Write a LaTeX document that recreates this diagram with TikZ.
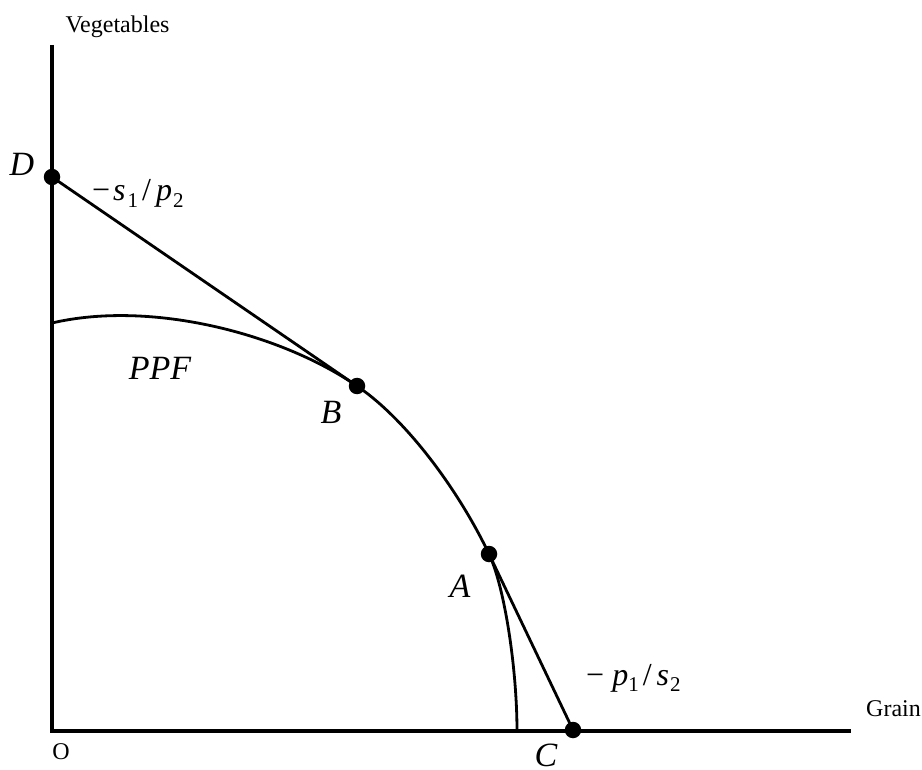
\documentclass[tikz,border=0pt]{standalone}
\usepackage{fontspec}
\setmainfont{Liberation Serif}
\newcommand{\lowsub}[1]{\raisebox{-0.45ex}{\fontsize{21}{21}\selectfont #1}}
\begin{document}
\begin{tikzpicture}[x=1pt,y=-1pt,
  axis/.style={line width=3.2pt},
  curveline/.style={line width=2.8pt},
  dot/.style={circle,fill=black,inner sep=0pt,minimum size=16.5pt},
  axlabel/.style={font=\fontsize{24}{28}\selectfont,anchor=base,inner sep=0pt},
  ptlabel/.style={font=\fontsize{34}{38}\selectfont\itshape,anchor=base,inner sep=0pt},
  slopelabel/.style={font=\fontsize{32}{36}\selectfont,anchor=base west,inner sep=0pt}]
\useasboundingbox (0,0) rectangle (922,770);
% axes
\coordinate (O) at (52,731);
\coordinate (ytop) at (52,45);
\coordinate (xend) at (851,731);
\draw[axis,line cap=butt] (ytop) -- (O) -- (xend);
% points
\node[dot] (D) at (52,177) {};
\node[dot] (B) at (357,386) {};
\node[dot] (A) at (489,554) {};
\node[dot] (C) at (573,730) {};
\coordinate (P0) at (52,323);
\coordinate (P3) at (517,731);
% PPF curve
\draw[curveline] (P0) .. controls (150,300) and (280,333) .. (B.center)
  .. controls (407,420) and (459,491) .. (A.center)
  .. controls (505,588) and (517,670) .. (P3);
% tangent lines
\draw[curveline] (D.center) -- (B.center);
\draw[curveline] (A.center) -- (C.center);
% labels
\node[axlabel] (veg) at (117.5,33) {Vegetables};
\node[axlabel] (grain) at (893.5,716) {Grain};
\node[axlabel] (olab) at (61,759) {O};
\node[ptlabel] (Dlab) at (22,176) {D};
\node[ptlabel] (Blab) at (331,424) {B};
\node[ptlabel] (Alab) at (460,597) {A};
\node[ptlabel] (Clab) at (546,766) {C};
\node[ptlabel] (ppf) at (160,379) {PPF};
\node[slopelabel] (slopeD) at (92,201) {−\hspace{3pt}\textit{s}\hspace{2pt}\lowsub{1}\hspace{4pt}/\hspace{5pt}\textit{p}\hspace{1pt}\lowsub{2}};
\node[slopelabel] (slopeC) at (586,685) {−\hspace{8pt}\textit{p}\lowsub{1}\hspace{4pt}/\hspace{5pt}\textit{s}\hspace{1pt}\lowsub{2}};
\end{tikzpicture}
\end{document}
